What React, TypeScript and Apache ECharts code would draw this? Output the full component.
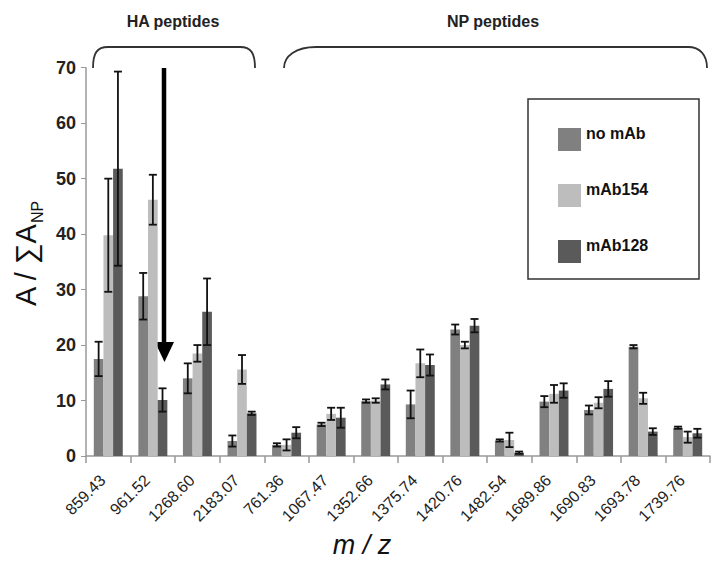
import React, { useEffect, useRef } from "react";
import * as echarts from "echarts";

const categories = ["859.43", "961.52", "1268.60", "2183.07", "761.36", "1067.47", "1352.66", "1375.74", "1420.76", "1482.54", "1689.86", "1690.83", "1693.78", "1739.76"];
const seriesNames = ["no mAb", "mAb154", "mAb128"];
const noMAb = [17.5, 28.8, 14.0, 2.7, 2.0, 5.7, 9.9, 9.3, 22.8, 2.8, 9.8, 8.3, 19.7, 5.1];
const noMAbErr = [3.1, 4.2, 2.7, 1.0, 0.3, 0.3, 0.3, 2.5, 0.9, 0.2, 1.0, 0.8, 0.3, 0.2];
const mAb154 = [39.8, 46.2, 18.5, 15.6, 2.0, 7.6, 10.0, 16.7, 20.0, 2.9, 11.2, 9.6, 10.4, 3.4];
const mAb154Err = [10.2, 4.5, 1.5, 2.6, 1.0, 1.1, 0.4, 2.5, 0.6, 1.3, 1.6, 1.0, 1.0, 1.0];
const mAb128 = [51.8, 10.1, 26.0, 7.7, 4.2, 6.9, 12.9, 16.4, 23.5, 0.6, 11.8, 12.1, 4.4, 4.1];
const mAb128Err = [17.5, 2.1, 6.0, 0.3, 1.0, 1.8, 0.9, 1.9, 1.2, 0.2, 1.3, 1.4, 0.6, 0.8];
const yTicks = { min: 0, max: 70, interval: 10 };
const groupLabels = ["HA peptides", "NP peptides"];

const colors = ["#808080", "#bdbdbd", "#5a5a5a"];
const CAT_GAP = 0.35;

let registered = false;
function registerShapes() {
  if (registered) return;
  registered = true;
  echarts.graphic.registerShape(
    "bracketHA",
    echarts.graphic.extendPath("M93,68 C93,53 97,47 108,47 L240,47 C251,47 255,53 255,68", {})
  );
  echarts.graphic.registerShape(
    "bracketNP",
    echarts.graphic.extendPath("M284,68 C284,56 296,47 316,47 L688,47 C700,47 707,55 707,68", {})
  );
}

export default function App() {
  const ref = useRef<HTMLDivElement>(null);
  useEffect(() => {
    if (!ref.current) return;
    registerShapes();
    const chart = echarts.init(ref.current, null, { renderer: "svg" });
    const values = [noMAb, mAb154, mAb128];
    const errs = [noMAbErr, mAb154Err, mAb128Err];
    const errData: number[][] = [];
    values.forEach((arr, k) => {
      arr.forEach((v, i) => errData.push([i, v, errs[k][i], k]));
    });
    const font = "Liberation Sans, Arial, sans-serif";
    chart.setOption({
      animation: false,
      backgroundColor: "#ffffff",
      grid: { left: 86, right: 2, top: 67.7, bottom: 106, containLabel: false },
      legend: {
        orient: "vertical",
        left: 558,
        top: 125,
        padding: 0,
        itemWidth: 23,
        itemHeight: 23,
        itemGap: 27,
        icon: "rect",
        data: seriesNames,
        formatter: (name: string) => name + "\n",
        textStyle: { fontFamily: font, fontWeight: "bold", fontSize: 16, color: "#111", lineHeight: 13 },
      },
      xAxis: {
        type: "category",
        data: categories,
        axisLine: { lineStyle: { color: "#999", width: 1.5 } },
        axisTick: { show: true, alignWithLabel: false, length: 7, lineStyle: { color: "#999", width: 1.5 } },
        axisLabel: { rotate: 45, margin: 16, padding: [0, 8, 0, 0], fontFamily: font, fontSize: 16, color: "#222", interval: 0, hideOverlap: false },
      },
      yAxis: {
        type: "value",
        min: yTicks.min,
        max: yTicks.max,
        interval: yTicks.interval,
        splitLine: { show: false },
        axisLine: { show: true, lineStyle: { color: "#999", width: 1.5 } },
        axisTick: { show: true, length: 5, lineStyle: { color: "#999" } },
        axisLabel: { fontFamily: font, fontWeight: "bold", fontSize: 18, color: "#222", margin: 10 },
      },
      series: [
        ...values.map((arr, k) => ({
          name: seriesNames[k],
          type: "bar",
          data: arr,
          barGap: "0%",
          barCategoryGap: CAT_GAP * 100 + "%",
          itemStyle: { color: colors[k] },
        })),
        {
          type: "custom",
          data: errData,
          z: 10,
          encode: { x: 0, y: 1 },
          renderItem: (params: any, api: any) => {
            const i = api.value(0);
            const v = api.value(1);
            const e = api.value(2);
            const k = api.value(3);
            const cw = api.size([1, 0])[0];
            const bw = (cw * (1 - CAT_GAP)) / 3;
            const c = api.coord([i, v]);
            const x = c[0] + (k - 1) * bw;
            const top = api.coord([i, v + e])[1];
            const bot = api.coord([i, Math.max(v - e, 0)])[1];
            const hw = 4;
            const st = { stroke: "#111", lineWidth: 1.8 };
            return {
              type: "group",
              children: [
                { type: "line", shape: { x1: x, y1: top, x2: x, y2: bot }, style: st },
                { type: "line", shape: { x1: x - hw, y1: top, x2: x + hw, y2: top }, style: st },
                { type: "line", shape: { x1: x - hw, y1: bot, x2: x + hw, y2: bot }, style: st },
              ],
            };
          },
        },
      ],
      graphic: [
        { type: "bracketHA", x: 0, y: 0, shape: {}, style: { stroke: "#333", fill: "none", lineWidth: 1.8 } },
        { type: "bracketNP", x: 0, y: 0, shape: {}, style: { stroke: "#333", fill: "none", lineWidth: 1.8 } },
        {
          type: "text",
          x: 173,
          y: 21,
          style: { text: groupLabels[0], fontFamily: font, fontWeight: "bold", fontSize: 16, fill: "#222", align: "center", verticalAlign: "middle" },
        },
        {
          type: "text",
          x: 493,
          y: 21,
          style: { text: groupLabels[1], fontFamily: font, fontWeight: "bold", fontSize: 16, fill: "#222", align: "center", verticalAlign: "middle" },
        },
        { type: "line", shape: { x1: 164, y1: 68, x2: 164, y2: 345 }, style: { stroke: "#000", lineWidth: 4.5 } },
        { type: "polygon", shape: { points: [[155, 342], [174, 342], [164.5, 362]] }, style: { fill: "#000" } },
        { type: "rect", shape: { x: 528, y: 99, width: 171, height: 180 }, style: { stroke: "#333", fill: "none", lineWidth: 1.5 } },
        {
          type: "text",
          x: 26,
          y: 265,
          rotation: Math.PI / 2,
          style: { text: "A / ∑A", fontFamily: font, fontSize: 29, fill: "#111", align: "center", verticalAlign: "middle" },
        },
        {
          type: "text",
          x: 37,
          y: 212,
          rotation: Math.PI / 2,
          style: { text: "NP", fontFamily: font, fontSize: 16, fill: "#111", align: "center", verticalAlign: "middle" },
        },
        {
          type: "text",
          x: 362,
          y: 545,
          style: { text: "m / z", fontFamily: font, fontStyle: "italic", fontSize: 27, fill: "#111", align: "center", verticalAlign: "middle" },
        },
      ],
    });
    return () => chart.dispose();
  }, []);
  return <div ref={ref} style={{ position: "fixed", left: 0, top: 0, width: 712, height: 562 }} />;
}
